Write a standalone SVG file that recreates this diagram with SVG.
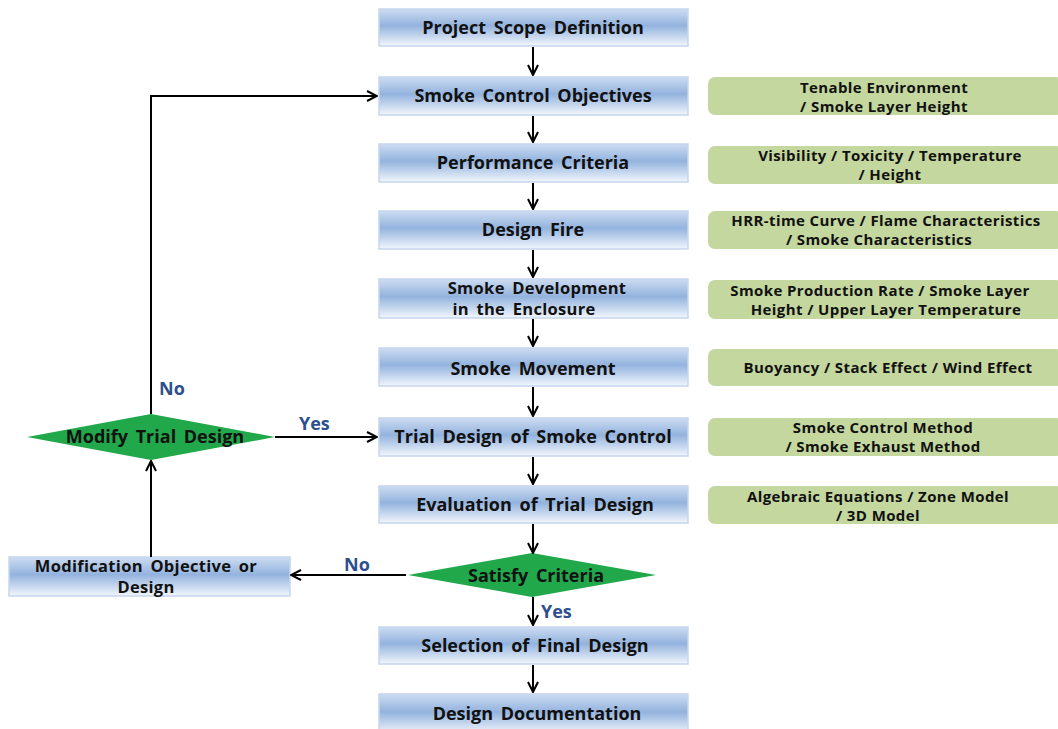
<svg xmlns="http://www.w3.org/2000/svg" width="1058" height="729" viewBox="0 0 1058 729">
  <defs>
    <linearGradient id="boxGrad" x1="0" y1="0" x2="0" y2="1">
      <stop offset="0" stop-color="#cddcf1"/>
      <stop offset="0.45" stop-color="#93b3de"/>
      <stop offset="1" stop-color="#f2f6fc"/>
    </linearGradient>
    <marker id="arrow" viewBox="0 0 12 12" refX="11" refY="6" markerWidth="12" markerHeight="12" markerUnits="userSpaceOnUse" orient="auto">
      <path d="M1,1 L11,6 L1,11" fill="none" stroke="#000" stroke-width="2"/>
    </marker>
  </defs>
  <style>
    .box { fill: url(#boxGrad); stroke: #c6d6ee; stroke-width: 1.5; }
    .note { fill: #c4d79e; }
    .dia { fill: #20a84a; }
    .t { font-family: "Open Sans", "Noto Sans", sans-serif; font-weight: 700; font-size: 18px; fill: #111; text-anchor: middle; word-spacing: 3px; }
    .t2 { font-size: 16.5px; letter-spacing: 0.3px; }
    .n { font-family: "Open Sans", "Noto Sans", sans-serif; font-weight: 700; font-size: 15px; letter-spacing: 0.4px; fill: #111; text-anchor: middle; }
    .lbl { font-family: "Open Sans", "Noto Sans", sans-serif; font-weight: 700; font-size: 18px; fill: #2e4f8f; }
    .c { fill: none; stroke: #000; stroke-width: 2; marker-end: url(#arrow); }
  </style>
  <rect width="1058" height="729" fill="#fff"/>

  <!-- main process column -->
  <g id="project-scope"><rect class="box" x="379" y="9" width="309" height="37"/><text class="t" x="533" y="34">Project Scope Definition</text></g>
  <g id="smoke-control-objectives"><rect class="box" x="379" y="77" width="309" height="38"/><text class="t" x="533" y="102">Smoke Control Objectives</text></g>
  <g id="performance-criteria"><rect class="box" x="379" y="144" width="309" height="38"/><text class="t" x="533" y="169">Performance Criteria</text></g>
  <g id="design-fire"><rect class="box" x="379" y="211" width="309" height="38"/><text class="t" x="533" y="236">Design Fire</text></g>
  <g id="smoke-development"><rect class="box" x="379" y="279" width="309" height="39"/><text class="t t2" x="537" y="294">Smoke Development</text><text class="t t2" x="524" y="315">in the Enclosure</text></g>
  <g id="smoke-movement"><rect class="box" x="379" y="348" width="309" height="38"/><text class="t" x="533" y="375">Smoke Movement</text></g>
  <g id="trial-design"><rect class="box" x="379" y="418" width="309" height="38"/><text class="t" x="533" y="443">Trial Design of Smoke Control</text></g>
  <g id="evaluation"><rect class="box" x="379" y="486" width="309" height="37"/><text class="t" x="535" y="511">Evaluation of Trial Design</text></g>
  <g id="satisfy-criteria"><polygon class="dia" points="408,575 532,553 656,575 532,597"/><text class="t" x="536" y="582">Satisfy Criteria</text></g>
  <g id="selection-final"><rect class="box" x="379" y="627" width="309" height="37"/><text class="t" x="535" y="652">Selection of Final Design</text></g>
  <g id="documentation"><rect class="box" x="379" y="694" width="309" height="40"/><text class="t" x="537" y="720">Design Documentation</text></g>

  <!-- feedback loop -->
  <g id="modify-trial"><polygon class="dia" points="27,437 151,414 275,437 151,460"/><text class="t" x="155" y="443">Modify Trial Design</text></g>
  <g id="modification-objective"><rect class="box" x="9" y="557" width="281" height="39"/><text class="t t2" x="146" y="572">Modification Objective or</text><text class="t t2" x="146" y="593">Design</text></g>

  <!-- notes -->
  <g id="note-objectives"><rect class="note" x="708" y="77" width="355" height="38" rx="7"/><text class="n" x="884" y="93">Tenable Environment</text><text class="n" x="884" y="112">/ Smoke Layer Height</text></g>
  <g id="note-criteria"><rect class="note" x="708" y="146" width="355" height="38" rx="7"/><text class="n" x="890" y="161">Visibility / Toxicity / Temperature</text><text class="n" x="890" y="180">/ Height</text></g>
  <g id="note-fire"><rect class="note" x="708" y="211" width="355" height="38" rx="7"/><text class="n" x="886" y="226">HRR-time Curve / Flame Characteristics</text><text class="n" x="879" y="245">/ Smoke Characteristics</text></g>
  <g id="note-development"><rect class="note" x="708" y="280" width="355" height="39" rx="7"/><text class="n" x="880" y="296">Smoke Production Rate / Smoke Layer</text><text class="n" x="886" y="315">Height / Upper Layer Temperature</text></g>
  <g id="note-movement"><rect class="note" x="708" y="349" width="355" height="37" rx="7"/><text class="n" x="888" y="373">Buoyancy / Stack Effect / Wind Effect</text></g>
  <g id="note-trial"><rect class="note" x="708" y="418" width="355" height="38" rx="7"/><text class="n" x="883" y="433">Smoke Control Method</text><text class="n" x="883" y="452">/ Smoke Exhaust Method</text></g>
  <g id="note-evaluation"><rect class="note" x="708" y="486" width="355" height="38" rx="7"/><text class="n" x="878" y="502">Algebraic Equations / Zone Model</text><text class="n" x="878" y="521">/ 3D Model</text></g>

  <!-- connectors -->
  <g id="connectors">
    <line class="c" x1="533" y1="47" x2="533" y2="75"/>
    <line class="c" x1="533" y1="116" x2="533" y2="142"/>
    <line class="c" x1="533" y1="183" x2="533" y2="209"/>
    <line class="c" x1="533" y1="250" x2="533" y2="277"/>
    <line class="c" x1="533" y1="319" x2="533" y2="346"/>
    <line class="c" x1="533" y1="387" x2="533" y2="416"/>
    <line class="c" x1="533" y1="457" x2="533" y2="484"/>
    <line class="c" x1="533" y1="524" x2="533" y2="553"/>
    <line class="c" x1="533" y1="597" x2="533" y2="625"/>
    <line class="c" x1="533" y1="665" x2="533" y2="692"/>
    <line class="c" x1="406" y1="575" x2="291" y2="575"/>
    <line class="c" x1="151" y1="557" x2="151" y2="461"/>
    <line class="c" x1="275" y1="437" x2="377" y2="437"/>
    <polyline class="c" points="151,414 151,96 377,96"/>
    <text class="lbl" x="159" y="395">No</text>
    <text class="lbl" x="299" y="430">Yes</text>
    <text class="lbl" x="344" y="571">No</text>
    <text class="lbl" x="541" y="618">Yes</text>
  </g>
</svg>
